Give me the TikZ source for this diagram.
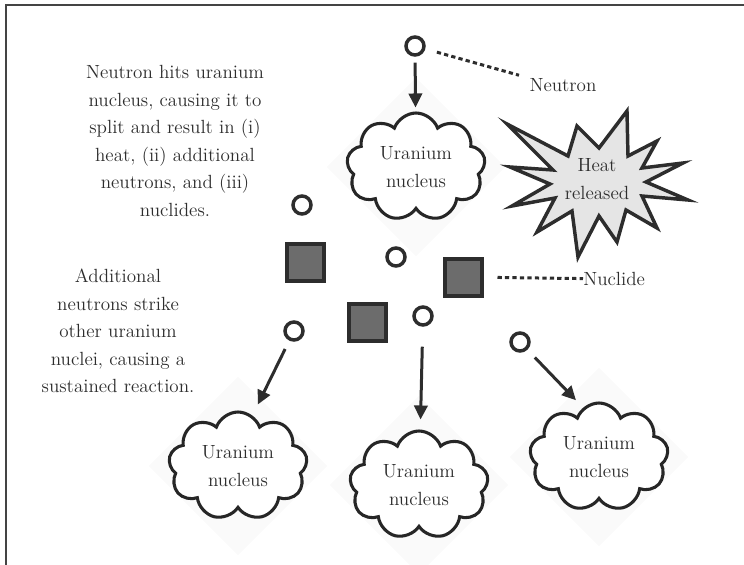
\documentclass[tikz,border=0pt]{standalone}
\usepackage{fontspec}
\usepackage{tikz}
\usetikzlibrary{arrows.meta, positioning, shapes.geometric, shapes.symbols}
\definecolor{ink}{RGB}{45,45,45}
\definecolor{frameline}{RGB}{68,68,68}
\definecolor{nuclidefill}{RGB}{108,108,108}
\definecolor{heatfill}{RGB}{229,229,229}
\definecolor{glowfill}{RGB}{250,250,250}

\begin{document}
\begin{tikzpicture}[x=0.75pt, y=-0.75pt,
    txt/.style={font=\fontsize{14.3}{20.6}\selectfont, text=ink, align=center},
    neutron/.style={circle, draw=ink, line width=2.6pt, minimum size=13.5pt, inner sep=0pt},
    nuc/.style={draw=ink, line width=3pt, fill=nuclidefill, minimum size=27.75pt, inner sep=0pt},
    uranium/.style={cloud, cloud puffs=9, cloud puff arc=140, cloud ignores aspect, draw=black!85, line width=2.3pt, fill=white, minimum width=104pt, minimum height=81pt, font=\fontsize{14.3}{21}\selectfont, text=ink, align=center},
    glow/.style={diamond, fill=glowfill, minimum size=134pt, inner sep=0pt},
    hit/.style={draw=ink, line width=2.25pt, -{Triangle[length=10.5pt, width=10pt]}},
    tag/.style={draw=ink, line width=2.25pt, dash pattern=on 3.2pt off 2.4pt}
]
    \useasboundingbox (0,0) rectangle (744,565);

    % Frame
    \draw[frameline, line width=1.5pt] (744,5) -- (6,5) -- (6,565);

    % Faint backdrops
    \node[glow] at (416,167) {};
    \node[glow] at (238,466) {};
    \node[glow] at (419,485) {};
    \node[glow] at (599,457) {};

    % Uranium nuclei
    \node[uranium] (u0) at (416,167) {Uranium\\nucleus};
    \node[uranium] (u1) at (238,466) {Uranium\\nucleus};
    \node[uranium] (u2) at (419,485) {Uranium\\nucleus};
    \node[uranium] (u3) at (599,457) {Uranium\\nucleus};

    % Heat burst
    \draw[ink, line width=2.6pt, fill=heatfill, line join=miter]
        (507,124) -- (568,156) -- (577,126) -- (599,148) -- (627,111) -- (628,156)
        -- (657,141) -- (642,168) -- (683,163) -- (646,182) -- (688,200) -- (642,196)
        -- (657,228) -- (626,210) -- (617,242) -- (599,216) -- (578,257) -- (572,211)
        -- (537,232) -- (555,198) -- (512,206) -- (550,184) -- (510,167) -- (553,170) -- cycle;
    \node[txt] (heat) at (597,179) {Heat\\released};

    % Neutrons
    \node[neutron] (nt0) at (415,46) {};
    \node[neutron] (nt1) at (302,205) {};
    \node[neutron] (nt2) at (396,257) {};
    \node[neutron] (nt3) at (294,331) {};
    \node[neutron] (nt4) at (423,316) {};
    \node[neutron] (nt5) at (520,342) {};

    % Nuclides
    \node[nuc] (nc1) at (305,262) {};
    \node[nuc] (nc2) at (463,277) {};
    \node[nuc] (nc3) at (367,322) {};

    % Labels
    \node[txt, inner sep=0pt] (lblneutron) at (563,85) {Neutron};
    \node[txt, inner sep=0pt, anchor=west] (lblnuclide) at (583,279) {Nuclide};
    \draw[tag, shorten <=9pt, shorten >=8pt] (nt0) -- (lblneutron.north west);
    \draw[tag, shorten <=10.5pt] (nc2) -- (lblnuclide);

    % Captions
    \node[txt] (cap1) at (175,141) {Neutron hits uranium\\nucleus, causing it to\\split and result in (i)\\heat, (ii) additional\\neutrons, and (iii)\\nuclides.};
    \node[txt] (cap2) at (118,331) {Additional\\neutrons strike\\other uranium\\nuclei, causing a\\sustained reaction.};

    % Chain reaction
    \draw[hit, shorten <=4.5pt, shorten >=3pt] (nt0) -- (u0);
    \draw[hit, shorten <=7pt, shorten >=9pt] (nt3) -- (u1.74);
    \draw[hit, shorten <=15pt, shorten >=7.5pt] (nt4) -- (u2);
    \draw[hit, shorten <=8pt, shorten >=7.5pt] (nt5) -- (u3.108);
\end{tikzpicture}
\end{document}
